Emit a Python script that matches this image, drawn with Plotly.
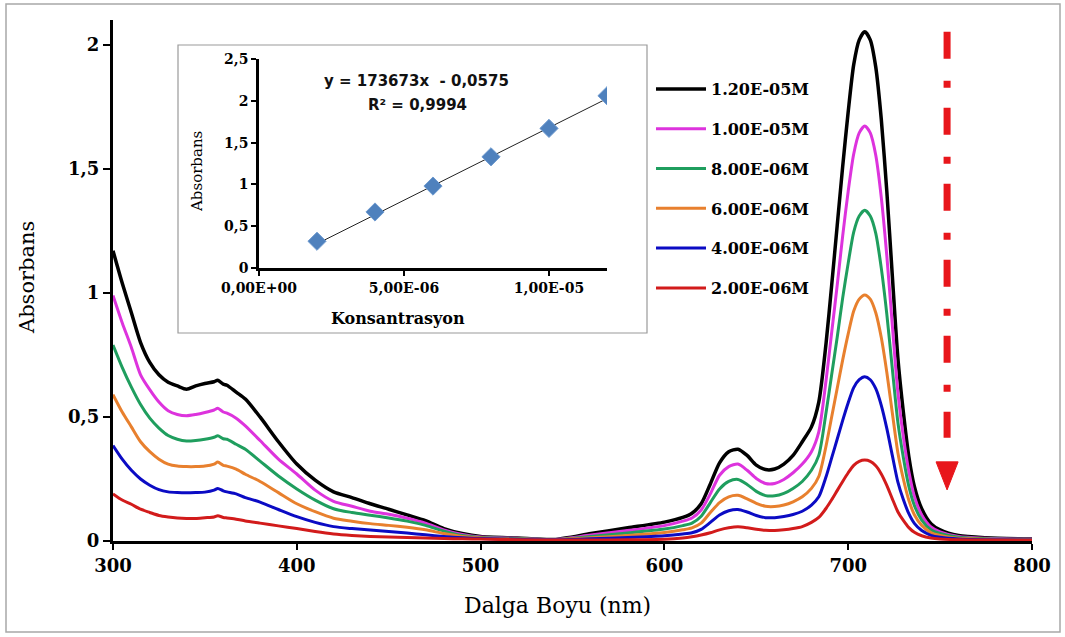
import plotly.graph_objects as go

# ---------------- data ----------------
wavelength = [300, 305, 310, 315, 320, 325, 330, 335, 340, 345, 350, 355, 357, 360, 362, 367, 372, 380, 390, 400,
              410, 420, 430, 440, 450, 460, 470, 480, 490, 500, 520, 540, 560, 580, 600, 610, 615, 620, 625, 630,
              635, 640, 645, 650, 655, 660, 665, 670,
              675, 680, 684, 688, 691, 694, 697, 700, 703, 706, 709, 712, 715, 718, 721, 724, 727, 730, 733, 736,
              740, 745, 750, 760, 775, 800]

abs_1_20e5 = [1.17, 1.04, 0.92, 0.80, 0.72, 0.67, 0.64, 0.625, 0.612, 0.625, 0.635, 0.642, 0.648, 0.632, 0.628, 0.60, 0.572, 0.50, 0.40, 0.31,
              0.245, 0.198, 0.175, 0.15, 0.128, 0.105, 0.082, 0.05, 0.03, 0.018, 0.012, 0.006, 0.03, 0.053, 0.076, 0.095, 0.112, 0.15, 0.23, 0.315,
              0.36, 0.37, 0.345, 0.306, 0.288, 0.29, 0.31, 0.345,
              0.40, 0.46, 0.56, 0.80, 1.03, 1.27, 1.51, 1.73, 1.92, 2.02, 2.053, 2.02, 1.91, 1.70, 1.41, 1.07, 0.74, 0.52, 0.34, 0.22,
              0.13, 0.07, 0.045, 0.022, 0.013, 0.008]

abs_1_00e5 = [0.99, 0.88, 0.78, 0.67, 0.61, 0.56, 0.525, 0.51, 0.505, 0.51, 0.518, 0.528, 0.535, 0.52, 0.515, 0.495, 0.464, 0.405, 0.33, 0.27,
              0.205, 0.16, 0.14, 0.12, 0.108, 0.092, 0.072, 0.045, 0.026, 0.016, 0.011, 0.006, 0.024, 0.042, 0.062, 0.08, 0.093, 0.125, 0.19, 0.265,
              0.30, 0.31, 0.285, 0.252, 0.232, 0.232, 0.248, 0.275,
              0.31, 0.36, 0.44, 0.65, 0.84, 1.03, 1.23, 1.41, 1.56, 1.645, 1.673, 1.645, 1.555, 1.385, 1.15, 0.87, 0.60, 0.42, 0.28, 0.18,
              0.105, 0.057, 0.037, 0.018, 0.011, 0.007]

abs_8_00e6 = [0.79, 0.70, 0.62, 0.55, 0.495, 0.455, 0.425, 0.41, 0.403, 0.405, 0.41, 0.418, 0.424, 0.412, 0.41, 0.39, 0.37, 0.322, 0.262, 0.21,
              0.165, 0.13, 0.115, 0.104, 0.093, 0.08, 0.063, 0.04, 0.022, 0.014, 0.01, 0.006, 0.018, 0.032, 0.048, 0.062, 0.072, 0.10, 0.155, 0.21,
              0.24, 0.248, 0.228, 0.20, 0.183, 0.182, 0.192, 0.212,
              0.24, 0.285, 0.345, 0.52, 0.67, 0.82, 0.98, 1.12, 1.245, 1.31, 1.333, 1.31, 1.24, 1.10, 0.915, 0.695, 0.48, 0.337, 0.22, 0.143,
              0.084, 0.045, 0.03, 0.015, 0.009, 0.006]

abs_6_00e6 = [0.59, 0.52, 0.46, 0.40, 0.36, 0.33, 0.31, 0.302, 0.30, 0.30, 0.302, 0.31, 0.318, 0.305, 0.302, 0.29, 0.269, 0.24, 0.195, 0.15,
              0.118, 0.092, 0.08, 0.07, 0.063, 0.055, 0.045, 0.03, 0.018, 0.012, 0.008, 0.005, 0.013, 0.022, 0.034, 0.045, 0.053, 0.072, 0.115, 0.155,
              0.178, 0.184, 0.17, 0.152, 0.14, 0.139, 0.145, 0.158,
              0.178, 0.212, 0.26, 0.385, 0.50, 0.615, 0.73, 0.835, 0.927, 0.975, 0.992, 0.975, 0.92, 0.82, 0.68, 0.517, 0.357, 0.25, 0.164, 0.106,
              0.063, 0.034, 0.022, 0.011, 0.007, 0.005]

abs_4_00e6 = [0.385, 0.33, 0.285, 0.25, 0.225, 0.207, 0.198, 0.195, 0.194, 0.195, 0.197, 0.205, 0.212, 0.202, 0.198, 0.19, 0.175, 0.157, 0.127, 0.098,
              0.075, 0.058, 0.05, 0.044, 0.038, 0.032, 0.025, 0.018, 0.013, 0.01, 0.007, 0.005, 0.009, 0.014, 0.021, 0.028, 0.033, 0.047, 0.075, 0.105,
              0.122, 0.127, 0.117, 0.103, 0.094, 0.094, 0.099, 0.107,
              0.12, 0.145, 0.178, 0.26, 0.335, 0.41, 0.486, 0.557, 0.618, 0.65, 0.662, 0.65, 0.614, 0.547, 0.454, 0.345, 0.238, 0.167, 0.11, 0.071,
              0.042, 0.023, 0.015, 0.008, 0.005, 0.004]

abs_2_00e6 = [0.19, 0.165, 0.148, 0.128, 0.115, 0.103, 0.097, 0.093, 0.091, 0.091, 0.094, 0.097, 0.102, 0.095, 0.093, 0.088, 0.081, 0.072, 0.061, 0.05,
              0.038, 0.028, 0.022, 0.018, 0.016, 0.014, 0.012, 0.01, 0.009, 0.008, 0.005, 0.004, 0.004, 0.005, 0.007, 0.012, 0.017, 0.024, 0.033, 0.045,
              0.053, 0.057, 0.053, 0.047, 0.043, 0.042, 0.045, 0.05,
              0.058, 0.075, 0.095, 0.132, 0.166, 0.203, 0.24, 0.275, 0.305, 0.321, 0.326, 0.321, 0.303, 0.27, 0.224, 0.17, 0.118, 0.083, 0.054, 0.035,
              0.021, 0.012, 0.008, 0.005, 0.004, 0.003]

series_names = ["1.20E-05M", "1.00E-05M", "8.00E-06M", "6.00E-06M", "4.00E-06M", "2.00E-06M"]
series_values = [abs_1_20e5, abs_1_00e5, abs_8_00e6, abs_6_00e6, abs_4_00e6, abs_2_00e6]
series_colors = ["#000000", "#DD33DD", "#1F9E5E", "#E8802E", "#0B0BC4", "#D21B1B"]

main_y_ticks = [0, 0.5, 1, 1.5, 2]
main_y_ticktext = ["0", "0,5", "1", "1,5", "2"]
main_x_ticks = [300, 400, 500, 600, 700, 800]

# calibration inset
inset_conc = [2e-6, 4e-6, 6e-6, 8e-6, 1e-5, 1.2e-5]
inset_abs = [0.32, 0.67, 0.98, 1.33, 1.67, 2.06]
fit_slope = 173673
fit_intercept = -0.0575
inset_x_ticks = [0, 5e-6, 1e-5]
inset_x_ticktext = ["0,00E+00", "5,00E-06", "1,00E-05"]
inset_y_ticks = [0, 0.5, 1, 1.5, 2, 2.5]
inset_y_ticktext = ["0", "0,5", "1", "1,5", "2", "2,5"]

# arrow (wavelength position and absorbance extent)
arrow_x = 753.8
arrow_top = 2.053
arrow_bottom = 0.416

# ---------------- figure ----------------
W, H = 1065, 637
L, R, T, B = 113, 33, 20, 96
PW, PH = W - L - R, H - T - B


def px(x):
    return (x - L) / PW


def py(y):
    return (H - B - y) / PH


SERIF = "DejaVu Serif"

fig = go.Figure()

for name, vals, col in zip(series_names, series_values, series_colors):
    fig.add_trace(go.Scatter(
        x=wavelength, y=vals, mode="lines", name=name, legendgroup=name,
        line=dict(color=col, width=3.5 if col == "#000000" else 3, shape="spline", smoothing=0.7),
        hoverinfo="skip"))

fit_x = [inset_conc[0], inset_conc[-1]]
fit_y = [fit_slope * c + fit_intercept for c in fit_x]
fig.add_trace(go.Scatter(x=fit_x, y=fit_y, xaxis="x2", yaxis="y2", mode="lines",
                         line=dict(color="#222222", width=1), showlegend=False, hoverinfo="skip"))
fig.add_trace(go.Scatter(x=inset_conc, y=inset_abs, xaxis="x2", yaxis="y2", mode="markers",
                         marker=dict(symbol="diamond", size=14, color="#4F81BD",
                                     line=dict(color="#6F9BD0", width=1)),
                         showlegend=False, hoverinfo="skip"))

shapes = [
    # outer frame
    dict(type="rect", xref="paper", yref="paper", x0=px(6), x1=px(1060), y0=py(632), y1=py(4),
         line=dict(color="#A8A8A8", width=1.5), fillcolor="rgba(0,0,0,0)", layer="below"),
    # inset frame
    dict(type="rect", xref="paper", yref="paper", x0=px(178), x1=px(647), y0=py(333), y1=py(45),
         line=dict(color="#9A9A9A", width=1.2), fillcolor="white", layer="below"),
    # arrow shaft
    dict(type="line", xref="x", yref="y", x0=arrow_x, x1=arrow_x, y0=arrow_top, y1=arrow_bottom,
         line=dict(color="#E8161B", width=7, dash="27px,22px,7px,20px")),
    # arrow head
    dict(type="path", xref="x", yref="y",
         path=f"M {arrow_x - 6.0},{0.319} L {arrow_x + 6.0},{0.319} L {arrow_x},{0.206} Z",
         fillcolor="#E8161B", line=dict(color="#E8161B", width=1)),
]

annotations = [
    dict(text="Absorbans", x=px(27), y=py(278), xref="paper", yref="paper", showarrow=False,
         textangle=-90, font=dict(family=SERIF, size=21, color="black"), xanchor="center", yanchor="middle"),
    dict(text="Dalga Boyu (nm)", x=px(557), y=py(605), xref="paper", yref="paper", showarrow=False,
         font=dict(family=SERIF, size=22, color="black"), xanchor="center", yanchor="middle"),
    dict(text="Konsantrasyon", x=px(398), y=py(318), xref="paper", yref="paper", showarrow=False,
         font=dict(family=SERIF, size=16, color="black", weight="bold"), xanchor="center", yanchor="middle"),
    dict(text="Absorbans", x=px(197), y=py(172), xref="paper", yref="paper", showarrow=False, textangle=-90,
         font=dict(family=SERIF, size=15, color="black"), xanchor="center", yanchor="middle"),
    dict(text=f"y = {fit_slope}x  - {str(abs(fit_intercept)).replace('.', ',')}", x=px(416), y=py(81),
         xref="paper", yref="paper", showarrow=False,
         font=dict(family="DejaVu Sans", size=15, color="#111111", weight="bold"), xanchor="center", yanchor="middle"),
    dict(text="R² = 0,9994", x=px(417), y=py(105), xref="paper", yref="paper", showarrow=False,
         font=dict(family="DejaVu Sans", size=15, color="#111111", weight="bold"), xanchor="center", yanchor="middle"),
]

fig.update_layout(
    width=W, height=H,
    margin=dict(l=L, r=R, t=T, b=B),
    paper_bgcolor="white", plot_bgcolor="white",
    showlegend=True,
    legend=dict(x=px(651), y=py(72), xanchor="left", yanchor="top", bgcolor="rgba(0,0,0,0)",
                font=dict(family=SERIF, size=16, color="black", weight="bold"),
                tracegroupgap=16, itemwidth=50, traceorder="grouped"),
    xaxis=dict(range=[300, 800], tickvals=main_x_ticks, showline=True, linecolor="black", linewidth=3,
               ticks="outside", ticklen=6, tickwidth=2, tickcolor="black", showgrid=False, zeroline=False,
               tickfont=dict(family=SERIF, size=18, color="black", weight="bold"), mirror=False),
    yaxis=dict(range=[0, 2.1], tickvals=main_y_ticks, ticktext=main_y_ticktext, showline=True,
               linecolor="black", linewidth=3, ticks="outside", ticklen=7, tickwidth=2, tickcolor="black",
               showgrid=False, zeroline=False,
               tickfont=dict(family=SERIF, size=18, color="black", weight="bold")),
    xaxis2=dict(domain=[px(259), px(607)], anchor="y2", range=[0, 1.2e-5], tickvals=inset_x_ticks,
                ticktext=inset_x_ticktext, showline=True, linecolor="black", linewidth=2.5, ticks="outside",
                ticklen=5, tickwidth=1.5, tickcolor="black", showgrid=False, zeroline=False,
                tickfont=dict(family=SERIF, size=14, color="black", weight="bold")),
    yaxis2=dict(domain=[py(268), py(59)], anchor="x2", range=[0, 2.5], tickvals=inset_y_ticks,
                ticktext=inset_y_ticktext, showline=True, linecolor="black", linewidth=2.5, ticks="outside",
                ticklen=5, tickwidth=1.5, tickcolor="black", showgrid=False, zeroline=False,
                tickfont=dict(family=SERIF, size=14, color="black", weight="bold")),
    shapes=shapes,
    annotations=annotations,
)

fig.write_html("out.html", config={"displayModeBar": False},
               post_script="document.body.style.margin='0px';document.body.style.overflow='hidden';")
